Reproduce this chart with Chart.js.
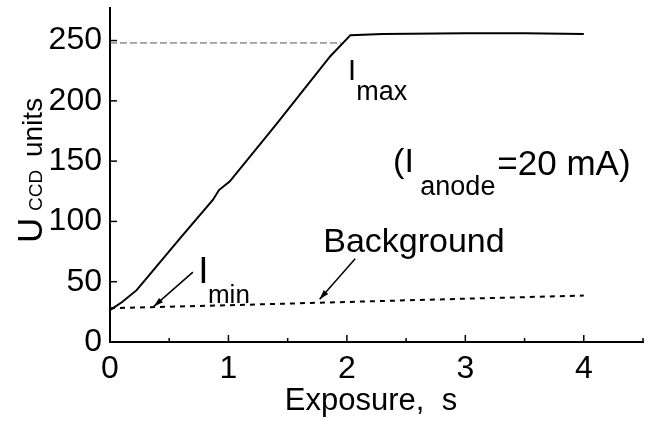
<!DOCTYPE html>
<html lang="en">
<head>
    <meta charset="UTF-8">
    <title>CCD signal vs exposure</title>
    <script src="https://cdn.jsdelivr.net/npm/chart.js"></script>
    <style>
        html, body { margin: 0; padding: 0; background: #fff; }
        .chart-box { width: 655px; height: 421px; }
    </style>
</head>
<body>
    <div class="chart-box"><canvas id="ccdChart"></canvas></div>

    <script>
        // signal curve (solid)
        const exposure = [0, 0.1, 0.225, 0.37, 0.6, 0.87, 0.92, 1.01, 1.4, 1.86, 2.03, 2.3, 3, 3.5, 4];
        const signal = [26.5, 33, 43, 60, 87, 118, 126, 133, 180, 237, 254.5, 255.5, 256, 256, 255.5];
        // background (dotted)
        const bgExposure = [0, 1, 2, 3, 4];
        const bgSignal = [28, 30.5, 33.2, 35.9, 38.5];
        // Imax level (thin dashed)
        const refExposure = [0, 1.95];
        const refSignal = [248, 248];
        // axes
        const xTicks = [0, 1, 2, 3, 4];
        const yTicks = [0, 50, 100, 150, 200, 250];

        const FONT = '"Liberation Sans", Arial, sans-serif';

        function pts(xs, ys) { return xs.map((x, i) => ({ x: x, y: ys[i] })); }

        function arrow(ctx, x1, y1, x2, y2) {
            ctx.beginPath();
            ctx.moveTo(x1, y1);
            ctx.lineTo(x2, y2);
            ctx.stroke();
            const a = Math.atan2(y2 - y1, x2 - x1);
            ctx.beginPath();
            ctx.moveTo(x2, y2);
            ctx.lineTo(x2 - 10 * Math.cos(a - 0.3), y2 - 10 * Math.sin(a - 0.3));
            ctx.lineTo(x2 - 10 * Math.cos(a + 0.3), y2 - 10 * Math.sin(a + 0.3));
            ctx.closePath();
            ctx.fill();
        }

        const decor = {
            id: 'decor',
            afterDraw(chart) {
                const ctx = chart.ctx;
                const xs = chart.scales.x, ys = chart.scales.y;
                const px = v => xs.getPixelForValue(v);
                const py = v => ys.getPixelForValue(v);
                ctx.save();
                ctx.strokeStyle = '#000';
                ctx.fillStyle = '#000';
                ctx.lineWidth = 1.5;

                // inward tick marks
                ys.ticks.forEach(t => {
                    const len = t.value % 50 === 0 ? 7 : 4;
                    const y = py(t.value);
                    ctx.beginPath(); ctx.moveTo(xs.left, y); ctx.lineTo(xs.left + len, y); ctx.stroke();
                });
                xs.ticks.forEach(t => {
                    const len = Math.abs(t.value % 1) < 1e-6 ? 7 : 4;
                    const x = px(t.value);
                    ctx.beginPath(); ctx.moveTo(x, ys.bottom); ctx.lineTo(x, ys.bottom - len); ctx.stroke();
                });

                ctx.textBaseline = 'alphabetic';
                ctx.textAlign = 'left';

                // y title: U_CCD units
                ctx.save();
                ctx.translate(42, 243);
                ctx.rotate(-Math.PI / 2);
                ctx.font = '35px ' + FONT;
                ctx.fillText('U', 0, 0);
                ctx.font = '19px ' + FONT;
                ctx.fillText('CCD', 32, 0);
                ctx.font = '28px ' + FONT;
                ctx.fillText('units', 86, 0);
                ctx.restore();

                // x title
                ctx.font = '31px ' + FONT;
                ctx.textAlign = 'center';
                ctx.fillText('Exposure,  s', 371, 410);
                ctx.textAlign = 'left';

                // I_max
                ctx.font = '29px ' + FONT;
                ctx.fillText('I', px(2.01), py(217.6));
                ctx.font = '27px ' + FONT;
                ctx.fillText('max', px(2.08), py(201));

                // I_min
                ctx.font = '37px ' + FONT;
                ctx.fillText('I', px(0.745), py(49));
                ctx.font = '26px ' + FONT;
                ctx.fillText('min', px(0.827), py(32.4));

                // Background
                ctx.font = '34px ' + FONT;
                ctx.fillText('Background', px(1.8), py(74.7));

                // (I_anode=20 mA)
                ctx.font = '34px ' + FONT;
                ctx.fillText('(I', px(2.39), py(141));
                ctx.font = '27px ' + FONT;
                ctx.fillText('anode', px(2.62), py(122));
                ctx.font = '35px ' + FONT;
                ctx.fillText('=20 mA)', px(3.27), py(138.7));

                // arrows
                ctx.lineWidth = 1.5;
                arrow(ctx, px(0.70), py(58), px(0.37), py(29.5));
                arrow(ctx, px(2.07), py(69), px(1.77), py(35.5));
                ctx.restore();
            }
        };

        const ctx = document.getElementById('ccdChart').getContext('2d');
        new Chart(ctx, {
            type: 'line',
            data: {
                datasets: [
                    { data: pts(exposure, signal), borderColor: '#000', borderWidth: 2, pointRadius: 0, tension: 0 },
                    { data: pts(bgExposure, bgSignal), borderColor: '#000', borderWidth: 2, borderDash: [5, 5], pointRadius: 0, tension: 0 },
                    { data: pts(refExposure, refSignal), borderColor: '#555', borderWidth: 1, borderDash: [7, 3], pointRadius: 0, tension: 0 }
                ]
            },
            options: {
                responsive: true,
                maintainAspectRatio: false,
                animation: false,
                layout: { padding: { top: 8, right: 12, left: 0, bottom: 0 } },
                plugins: { legend: { display: false }, tooltip: { enabled: false } },
                scales: {
                    x: {
                        type: 'linear', min: 0, max: 4.5,
                        grid: { display: false, drawTicks: false },
                        border: { display: true, color: '#000', width: 2 },
                        afterFit: s => { s.height = 79; s.paddingLeft = 0; s.paddingRight = 0; },
                        ticks: {
                            stepSize: 0.5, padding: 8, color: '#000', maxRotation: 0,
                            font: { size: 32, family: FONT },
                            callback: v => xTicks.includes(v) ? String(v) : ''
                        }
                    },
                    y: {
                        min: 0, max: 277,
                        grid: { display: false, drawTicks: false },
                        border: { display: true, color: '#000', width: 2 },
                        afterBuildTicks: s => { s.ticks = s.ticks.filter(t => t.value % 25 === 0); },
                        afterFit: s => { s.width = 110; s.paddingTop = 0; s.paddingBottom = 0; },
                        ticks: {
                            stepSize: 25, padding: 8, color: '#000',
                            font: { size: 32, family: FONT },
                            callback: v => yTicks.includes(v) ? String(v) : ''
                        }
                    }
                }
            },
            plugins: [decor]
        });
    </script>
</body>
</html>
